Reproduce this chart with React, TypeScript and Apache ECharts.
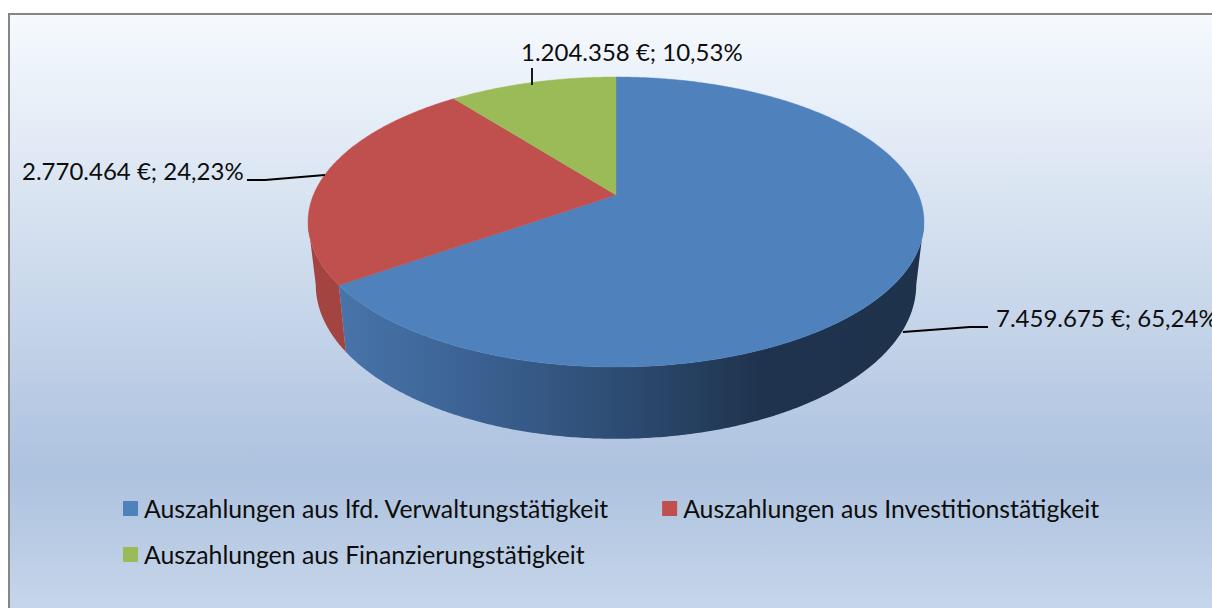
import React, { useEffect, useRef } from "react";
import * as echarts from "echarts";

const categories = [
  "Auszahlungen aus lfd. Verwaltungstätigkeit",
  "Auszahlungen aus Investitionstätigkeit",
  "Auszahlungen aus Finanzierungstätigkeit",
];
const values = [7459675, 2770464, 1204358];
const colors = ["#4f81bd", "#c0504d", "#9bbb59"];

const FONT = "Lato";
const LABEL_SIZE = 24;
const LEGEND_SIZE = 24.8;
const total = values.reduce((a, b) => a + b, 0);

// Projection of the tilted disc: top face and base face
const CX = 616;
const APEX_Y = 195;
const K = 0.186;
const TOP = { r: 302.6, p: 140, d: 0 };
const BASE = { r: 295, p: 148.8, d: 61 };

function project(face: { r: number; p: number; d: number }, theta: number): number[] {
  const u = Math.sin(theta);
  const v = Math.cos(theta);
  const w = 1 + K * v;
  return [CX + (face.r * u) / w, APEX_Y + face.d - (face.p * v) / w];
}

function arc(face: { r: number; p: number; d: number }, a: number, b: number): number[][] {
  const n = Math.max(2, Math.ceil(Math.abs(b - a) / (Math.PI / 360)));
  const pts: number[][] = [];
  for (let i = 0; i <= n; i++) pts.push(project(face, a + ((b - a) * i) / n));
  return pts;
}

const RIGHT_EDGE = Math.acos(-K);
const LEFT_EDGE = 2 * Math.PI - RIGHT_EDGE;

const wallFills: any[] = [
  new echarts.graphic.LinearGradient(0, 0, 1, 0, [
    { offset: 0, color: "#4874aa" },
    { offset: 0.25, color: "#3a6090" },
    { offset: 0.45, color: "#2f4f77" },
    { offset: 0.62, color: "#253e5d" },
    { offset: 0.72, color: "#1f334e" },
    { offset: 1, color: "#1e324c" },
  ]),
  "#a34441",
  "#7f9a49",
];

const labelLayout = [
  { x: 996, y: 317.5, line: [[903, 332], [970, 327], [988, 327]] },
  { x: 22, y: 170.5, line: [[325, 175], [265, 180], [247, 180]] },
  { x: 521, y: 51.5, line: [[532, 85], [532, 68]] },
];

function labelText(v: number): string {
  const pct = ((v / total) * 100).toFixed(2).replace(".", ",");
  return `${v.toLocaleString("de-DE")} €; ${pct}%`;
}

function makeRenderItem(index: number) {
  const before = values.slice(0, index).reduce((a, b) => a + b, 0);
  return (_params: any, api: any) => {
    const value = api.value(0) as number;
    const a = (before / total) * 2 * Math.PI;
    const b = ((before + value) / total) * 2 * Math.PI;
    const children: any[] = [];
    const wa = Math.max(a, RIGHT_EDGE);
    const wb = Math.min(b, LEFT_EDGE);
    if (wb > wa) {
      const wall = arc(TOP, wa, wb).concat(arc(BASE, wb, wa));
      children.push({
        type: "polygon",
        shape: { points: wall },
        style: { fill: wallFills[index] },
      });
    }
    const top = [[CX, APEX_Y]].concat(arc(TOP, a, b));
    children.push({
      type: "polygon",
      shape: { points: top },
      style: { fill: colors[index], stroke: colors[index], lineWidth: 0.4 },
    });
    const layout = labelLayout[index];
    children.push({
      type: "polyline",
      shape: { points: layout.line },
      style: { fill: "none", stroke: "#000", lineWidth: 1.8 },
    });
    children.push({
      type: "text",
      x: layout.x,
      y: layout.y,
      style: {
        text: labelText(value),
        fontFamily: FONT,
        fontSize: LABEL_SIZE,
        fill: "#0d0d0d",
        align: "left",
        verticalAlign: "middle",
      },
    });
    return { type: "group", children };
  };
}

const legendBase = {
  orient: "horizontal",
  icon: "rect",
  itemWidth: 15,
  itemHeight: 15,
  selectedMode: false,
  textStyle: { fontFamily: FONT, fontSize: LEGEND_SIZE, color: "#0d0d0d", padding: [0, 0, 3, 1] },
};

export default function App() {
  const ref = useRef<HTMLDivElement>(null);
  useEffect(() => {
    document.body.style.margin = "0";
    const chart = echarts.init(ref.current!, undefined, { renderer: "svg" });
    chart.setOption({
      animation: false,
      graphic: {
        elements: [
          {
            type: "rect",
            z: -10,
            shape: { x: 9, y: 14, width: 1300, height: 700 },
            style: {
              stroke: "#868686",
              lineWidth: 2,
              fill: new echarts.graphic.LinearGradient(0, 0, 0, 1, [
                { offset: 0, color: "#f6fafe" },
                { offset: 0.655, color: "#adc2df" },
                { offset: 0.85, color: "#c6d6ea" },
                { offset: 1, color: "#d0deef" },
              ]),
            },
          },
        ],
      },
      legend: [
        { ...legendBase, left: 118, top: 491, width: 1080, itemGap: 53, data: [categories[0], categories[1]] },
        { ...legendBase, left: 118, top: 537, width: 1080, data: [categories[2]] },
      ],
      series: categories.map((name, i) => ({
        type: "custom",
        name,
        coordinateSystem: "none",
        renderItem: makeRenderItem(i),
        itemStyle: { color: colors[i] },
        data: [values[i]],
        silent: true,
      })),
    });
    return () => chart.dispose();
  }, []);
  return <div ref={ref} style={{ width: 1212, height: 608 }} />;
}
